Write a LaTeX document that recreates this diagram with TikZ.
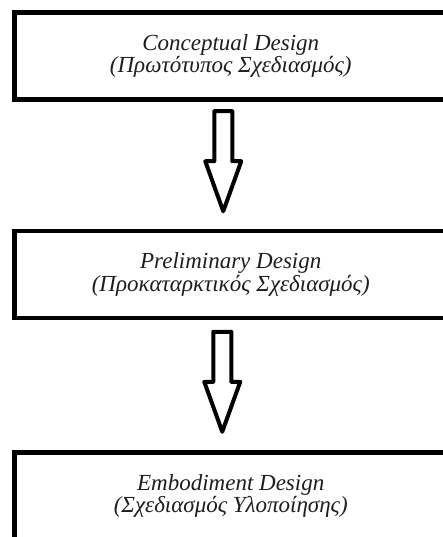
\documentclass[tikz,border=0pt]{standalone}
\usepackage{fontspec}
\setmainfont{Liberation Serif}
\usetikzlibrary{calc}
\definecolor{boxtext}{RGB}{30,30,30}

\tikzset{
  stagebox/.style={draw, line width=4.5pt, minimum width=432.5pt, minimum height=87pt,
    inner sep=0pt, align=center, text=boxtext, font=\fontsize{23}{19.5}\selectfont\itshape},
  downarrow/.pic={
    \draw[line width=4pt, line join=round]
      (-9,0) -- (-9,50) -- (-18,50) -- (0,100) -- (18,50) -- (9,50) -- (9,0) -- cycle;
  }
}

\begin{document}
\begin{tikzpicture}[x=1pt,y=-1pt]
\path[use as bounding box, fill=white] (0,0) rectangle (443,537);
\clip (0,0) rectangle (443,537);

% Design stages
\node[stagebox] (conceptual) at (230.75,56) {Conceptual Design\\(Πρωτότυπος Σχεδιασμός)};
\node[stagebox] (preliminary) at (230.75,274.5) {Preliminary Design\\(Προκαταρκτικός Σχεδιασμός)};
\node[stagebox] (embodiment) at (230.75,496) {Embodiment Design\\(Σχεδιασμός Υλοποίησης)};

% Arrows
\pic at ($(conceptual.south)+(-7.5,9.5)$) {downarrow};
\pic at ($(preliminary.south)+(-8.5,11.5)$) {downarrow};
\end{tikzpicture}
\end{document}
